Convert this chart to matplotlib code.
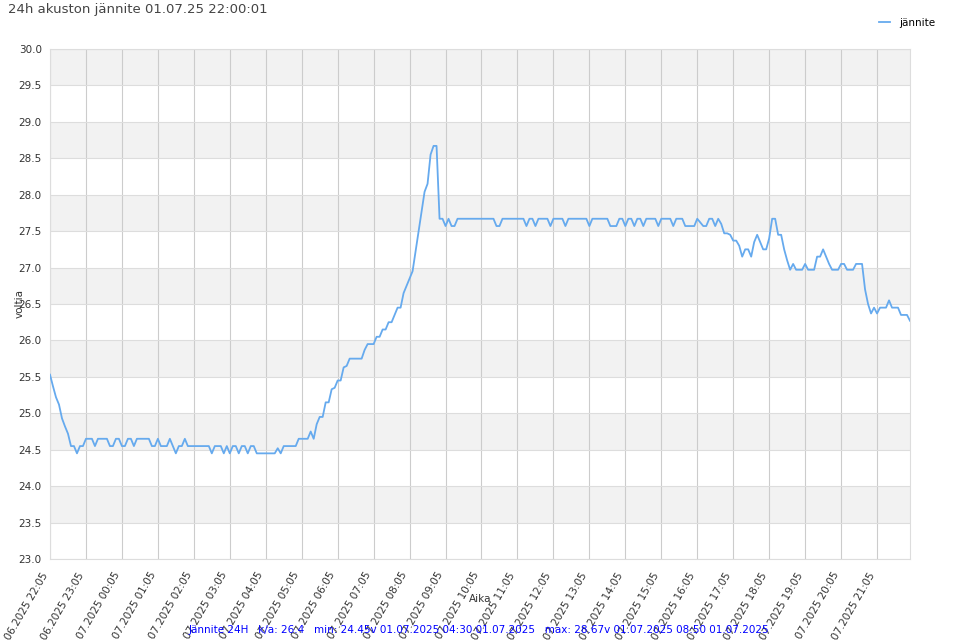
import numpy as np
import pandas as pd
import matplotlib
matplotlib.use('Agg')
import matplotlib.pyplot as plt
import matplotlib.dates as mdates
from matplotlib.transforms import ScaledTranslation

# 5 min readings, 30.06.2025 22:05 -> 01.07.2025 22:00
start = '2025-06-30 22:05'
jannite = [
    25.53, 25.37, 25.22, 25.12, 24.93, 24.82, 24.72, 24.55, 24.55, 24.45, 24.55, 24.55,
    24.65, 24.65, 24.65, 24.55, 24.65, 24.65, 24.65, 24.65, 24.55, 24.55, 24.65, 24.65,
    24.55, 24.55, 24.65, 24.65, 24.55, 24.65, 24.65, 24.65, 24.65, 24.65, 24.55, 24.55,
    24.65, 24.55, 24.55, 24.55, 24.65, 24.55, 24.45, 24.55, 24.55, 24.65, 24.55, 24.55,
    24.55, 24.55, 24.55, 24.55, 24.55, 24.55, 24.45, 24.55, 24.55, 24.55, 24.45, 24.55,
    24.45, 24.55, 24.55, 24.45, 24.55, 24.55, 24.45, 24.55, 24.55, 24.45, 24.45, 24.45,
    24.45, 24.45, 24.45, 24.45, 24.52, 24.45, 24.55, 24.55, 24.55, 24.55, 24.55, 24.65,
    24.65, 24.65, 24.65, 24.75, 24.65, 24.85, 24.95, 24.95, 25.15, 25.15, 25.33, 25.35,
    25.45, 25.45, 25.63, 25.65, 25.75, 25.75, 25.75, 25.75, 25.75, 25.87, 25.95, 25.95,
    25.95, 26.05, 26.05, 26.15, 26.15, 26.25, 26.25, 26.35, 26.45, 26.45, 26.65, 26.75,
    26.85, 26.95, 27.22, 27.50, 27.75, 28.04, 28.15, 28.55, 28.67, 28.67, 27.67, 27.67,
    27.57, 27.67, 27.57, 27.57, 27.67, 27.67, 27.67, 27.67, 27.67, 27.67, 27.67, 27.67,
    27.67, 27.67, 27.67, 27.67, 27.67, 27.57, 27.57, 27.67, 27.67, 27.67, 27.67, 27.67,
    27.67, 27.67, 27.67, 27.57, 27.67, 27.67, 27.57, 27.67, 27.67, 27.67, 27.67, 27.57,
    27.67, 27.67, 27.67, 27.67, 27.57, 27.67, 27.67, 27.67, 27.67, 27.67, 27.67, 27.67,
    27.57, 27.67, 27.67, 27.67, 27.67, 27.67, 27.67, 27.57, 27.57, 27.57, 27.67, 27.67,
    27.57, 27.67, 27.67, 27.57, 27.67, 27.67, 27.57, 27.67, 27.67, 27.67, 27.67, 27.57,
    27.67, 27.67, 27.67, 27.67, 27.57, 27.67, 27.67, 27.67, 27.57, 27.57, 27.57, 27.57,
    27.67, 27.62, 27.57, 27.57, 27.67, 27.67, 27.57, 27.67, 27.60, 27.47, 27.47, 27.45,
    27.37, 27.37, 27.30, 27.15, 27.25, 27.25, 27.15, 27.35, 27.45, 27.35, 27.25, 27.25,
    27.40, 27.67, 27.67, 27.45, 27.45, 27.25, 27.10, 26.97, 27.05, 26.97, 26.97, 26.97,
    27.05, 26.97, 26.97, 26.97, 27.15, 27.15, 27.25, 27.15, 27.05, 26.97, 26.97, 26.97,
    27.05, 27.05, 26.97, 26.97, 26.97, 27.05, 27.05, 27.05, 26.70, 26.50, 26.37, 26.45,
    26.37, 26.45, 26.45, 26.45, 26.55, 26.45, 26.45, 26.45, 26.35, 26.35, 26.35, 26.27,
]
aika = pd.date_range(start, periods=len(jannite), freq='5min')
tunnit = pd.date_range(start, periods=24, freq='1h')

title = '24h akuston jännite 01.07.25 22:00:01'
footer = ('Jännite 24H   k/a: 26.4   min: 24.45v 01.07.2025 04:30 01.07.2025   '
          'max: 28.67v 01.07.2025 08:50 01.07.2025')

fig = plt.figure(figsize=(9.6, 6.4), dpi=100)
ax = fig.add_axes([50/960, 1-559/640, 860/960, 510/640])

# alternating bands
for lo in np.arange(23.5, 30, 1.0):
    ax.axhspan(lo, lo + 0.5, color='#f2f2f2', zorder=0, lw=0)

ax.plot(aika, jannite, color='#66aaee', lw=1.3, zorder=3, label='jännite')

ax.set_ylim(23, 30)
ax.set_yticks(np.arange(23, 30.01, 0.5))
ax.set_xlim(aika[0], aika[-1])
ax.set_xticks(tunnit)
ax.xaxis.set_major_formatter(mdates.DateFormatter('%d.%m.%Y %H:%M'))
ax.grid(axis='y', color='#dddddd', lw=0.8, zorder=1)
ax.grid(axis='x', color='#cccccc', lw=0.8, zorder=1)
ax.tick_params(length=0, labelsize=7.5, colors='#333333', pad=6)
shift = ScaledTranslation(-9/100, -3/100, fig.dpi_scale_trans)
for lab in ax.get_xticklabels():
    lab.set_rotation(60)
    lab.set_ha('right')
    lab.set_rotation_mode('anchor')
    lab.set_transform(lab.get_transform() + shift)
for s in ax.spines.values():
    s.set_color('#dddddd')
    s.set_linewidth(0.8)

fig.text(20/960, 1-303/640, 'voltia', rotation=90, ha='center', va='center',
         fontsize=7.5, color='#333333')
fig.text(480/960, 1-599/640, 'Aika', ha='center', va='center', fontsize=7.5, color='#333333')
fig.text(8/960, 1-10/640, title, ha='left', va='center', fontsize=9.5, color='#444444')
fig.text(479/960, 1-630/640, footer, ha='center', va='center', fontsize=7.5, color='#0000ff')
fig.legend(loc='center left', bbox_to_anchor=(870/960, 1-23/640), frameon=False,
           fontsize=7.5, handlelength=1.0, handletextpad=0.9)

fig.savefig('out.png', dpi=100)
